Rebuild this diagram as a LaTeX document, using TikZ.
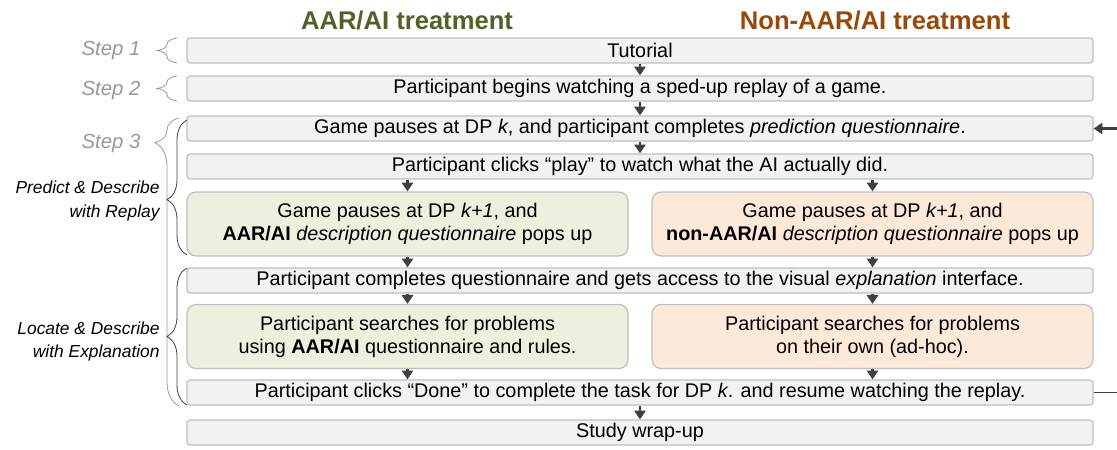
\documentclass[tikz,border=0pt]{standalone}
\usepackage{fontspec}
\setmainfont{Liberation Sans}
\usepackage{tikz}
\usetikzlibrary{arrows.meta,calc,decorations.pathreplacing}
\usepackage{xcolor}
\definecolor{aargrn}{HTML}{4F6228}
\definecolor{nonorg}{HTML}{984807}
\definecolor{grnfill}{HTML}{EBF1DE}
\definecolor{orgfill}{HTML}{FDE9D9}
\definecolor{boxfill}{HTML}{F2F2F2}
\definecolor{boxline}{HTML}{BFBFBF}
\definecolor{dk}{HTML}{404040}
\definecolor{stepgray}{HTML}{999999}
\tikzset{
  row/.style={draw=boxline, fill=boxfill, rounded corners=1.5pt, line width=0.6pt,
    minimum width=453pt, minimum height=12.5pt, inner sep=0pt,
    font=\fontsize{9.9}{11.5}\selectfont},
  half/.style={draw=boxline, line width=0.6pt, rounded corners=4.5pt,
    minimum width=220.5pt, minimum height=32pt, inner sep=0pt, align=center,
    font=\fontsize{9.9}{11.5}\selectfont},
  flow/.style={-{Triangle[length=4.4pt, width=5.6pt]}, line width=1.1pt, dk},
  lp/.style={line width=0.8pt, dk},
  stepl/.style={anchor=east, inner sep=0pt, stepgray, font=\fontsize{10.2}{11.5}\selectfont\itshape},
  phase/.style={anchor=east, inner sep=0pt, align=right, font=\fontsize{8.7}{11.5}\selectfont\itshape},
  ttl/.style={font=\fontsize{12.8}{14}\selectfont\bfseries},
  brc/.style={decorate, decoration={brace, amplitude=#1}},
}

\begin{document}
\begin{tikzpicture}[x=0.5pt, y=-0.5pt]
  \useasboundingbox (0,0) rectangle (1117,449);

  % --- headings ---
  \node[ttl, aargrn] (hA) at (407,20) {AAR/AI treatment};
  \node[ttl, nonorg] (hN) at (875,20) {Non-AAR/AI treatment};

  % --- flow boxes ---
  \node[row] (tut) at (640,50.5) {Tutorial};
  \node[row] (rep) at (640,88.5) {Participant begins watching a sped-up replay of a game.};
  \node[row] (pred) at (640,128.5) {Game pauses at DP \textit{k}, and participant completes \textit{prediction questionnaire}.};
  \node[row] (play) at (640,166.5) {Participant clicks “play” to watch what the AI actually did.};
  \node[half, fill=grnfill] (aarA) at (407.5,224) {Game pauses at DP \textit{k+1}, and\\\textbf{AAR/AI} \textit{description questionnaire} pops up};
  \node[half, fill=orgfill] (nonA) at (872.5,224) {Game pauses at DP \textit{k+1}, and\\\textbf{non-AAR/AI} \textit{description questionnaire} pops up};
  \node[row] (expl) at (640,280.5) {Participant completes questionnaire and gets access to the visual \textit{explanation} interface.};
  \node[half, fill=grnfill] (aarB) at (407.5,336.5) {Participant searches for problems\\using \textbf{AAR/AI} questionnaire and rules.};
  \node[half, fill=orgfill] (nonB) at (872.5,336.5) {Participant searches for problems\\on their own (ad-hoc).};
  \node[row] (done) at (640,392.5) {Participant clicks “Done” to complete the task for DP \textit{k}. and resume watching the replay.};
  \node[row] (wrap) at (640,432.5) {Study wrap-up};

  % --- arrows ---
  \draw[flow] (tut) -- (rep);
  \draw[flow] (rep) -- (pred);
  \draw[flow] (pred) -- (play);
  \draw[flow] (play.south -| aarA) -- (aarA);
  \draw[flow] (play.south -| nonA) -- (nonA);
  \draw[flow] (aarA) -- (expl.north -| aarA);
  \draw[flow] (nonA) -- (expl.north -| nonA);
  \draw[flow] (expl.south -| aarB) -- (aarB);
  \draw[flow] (expl.south -| nonB) -- (nonB);
  \draw[flow] (aarB) -- (done.north -| aarB);
  \draw[flow] (nonB) -- (done.north -| nonB);
  \draw[flow] (done) -- (wrap);

  % --- loop back to DP k ---
  \coordinate (lpD) at (1117,392.5);
  \coordinate (lpP) at (1117,128.5);
  \draw[lp] (done.east) -- (lpD);
  \draw[flow] (lpP) -- (pred.east);

  % --- steps ---
  \node[stepl] (s1) at (141,50) {Step 1};
  \node[stepl] (s2) at (141,90) {Step 2};
  \node[stepl] (s3) at (141,143) {Step 3};
  \draw[brc=10pt, stepgray, thin] (177,63) -- (177,38);
  \draw[brc=10pt, stepgray, thin] (177,101) -- (177,76);
  \draw[brc=12pt, stepgray, thin, decoration={aspect=0.915}] (179,406) -- (179,118);

  % --- phases ---
  \draw[brc=10pt, dk, thin, decoration={aspect=0.41}] (187,255) -- (187,120);
  \draw[brc=10pt, dk, thin] (187,405) -- (187,268);
  \node[phase] (pA) at (160,201) {Predict \& Describe\\with Replay};
  \node[phase] (pB) at (160,341) {Locate \& Describe\\with Explanation};
\end{tikzpicture}
\end{document}
